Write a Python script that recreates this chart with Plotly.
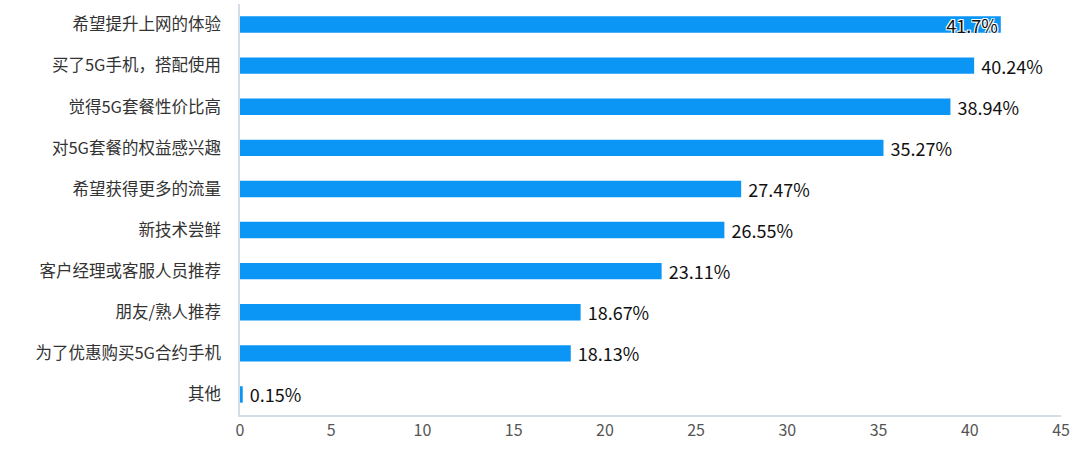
import plotly.graph_objects as go

categories = [
    "希望提升上网的体验",
    "买了5G手机，搭配使用",
    "觉得5G套餐性价比高",
    "对5G套餐的权益感兴趣",
    "希望获得更多的流量",
    "新技术尝鲜",
    "客户经理或客服人员推荐",
    "朋友/熟人推荐",
    "为了优惠购买5G合约手机",
    "其他",
]
values = [41.7, 40.24, 38.94, 35.27, 27.47, 26.55, 23.11, 18.67, 18.13, 0.15]
labels = ["41.7%", "40.24%", "38.94%", "35.27%", "27.47%", "26.55%", "23.11%", "18.67%", "18.13%", "0.15%"]
x_ticks = [0, 5, 10, 15, 20, 25, 30, 35, 40, 45]

FONT = "Noto Sans CJK SC, Microsoft YaHei, sans-serif"

# first label sits inside the bar end, the rest outside with a small gap
positions = ["inside"] + ["outside"] * (len(values) - 1)
texts = [labels[0]] + [" " + t for t in labels[1:]]

fig = go.Figure()
fig.add_trace(
    go.Bar(
        x=values,
        y=categories,
        orientation="h",
        marker=dict(color="#0b96f5", line=dict(width=0)),
        width=0.4,
        text=texts,
        textposition=positions,
        insidetextanchor="end",
        constraintext="none",
        cliponaxis=False,
        textfont=dict(family=FONT, size=18, color="#111111"),
        insidetextfont=dict(
            family=FONT, size=18, color="#111111",
            shadow="-1px -1px 0 #fff, 1px -1px 0 #fff, -1px 1px 0 #fff, 1px 1px 0 #fff",
        ),
        outsidetextfont=dict(family=FONT, size=18, color="#111111"),
    )
)

fig.update_layout(
    width=1080,
    height=452,
    margin=dict(l=240, r=19, t=4, b=37),
    paper_bgcolor="white",
    plot_bgcolor="white",
    showlegend=False,
    bargap=0.6,
    font=dict(family=FONT, size=16, color="#444444"),
    xaxis=dict(
        range=[0, 45],
        tickvals=x_ticks,
        showgrid=False,
        zeroline=False,
        showline=True,
        linecolor="#d5dcea",
        linewidth=1.5,
        ticks="",
        automargin=False,
        tickfont=dict(size=16, color="#555555"),
    ),
    yaxis=dict(
        categoryorder="array",
        categoryarray=categories[::-1],
        showgrid=False,
        zeroline=False,
        showline=True,
        linecolor="#d5dcea",
        linewidth=1.5,
        ticks="",
        automargin=False,
        ticklabelstandoff=14,
        tickfont=dict(size=16.5, color="#333333"),
    ),
)

# drop the default page margin so the figure sits at the window corner
fig.write_html(
    "out.html",
    config={"displayModeBar": False},
    post_script="document.body.style.margin='0';",
)
